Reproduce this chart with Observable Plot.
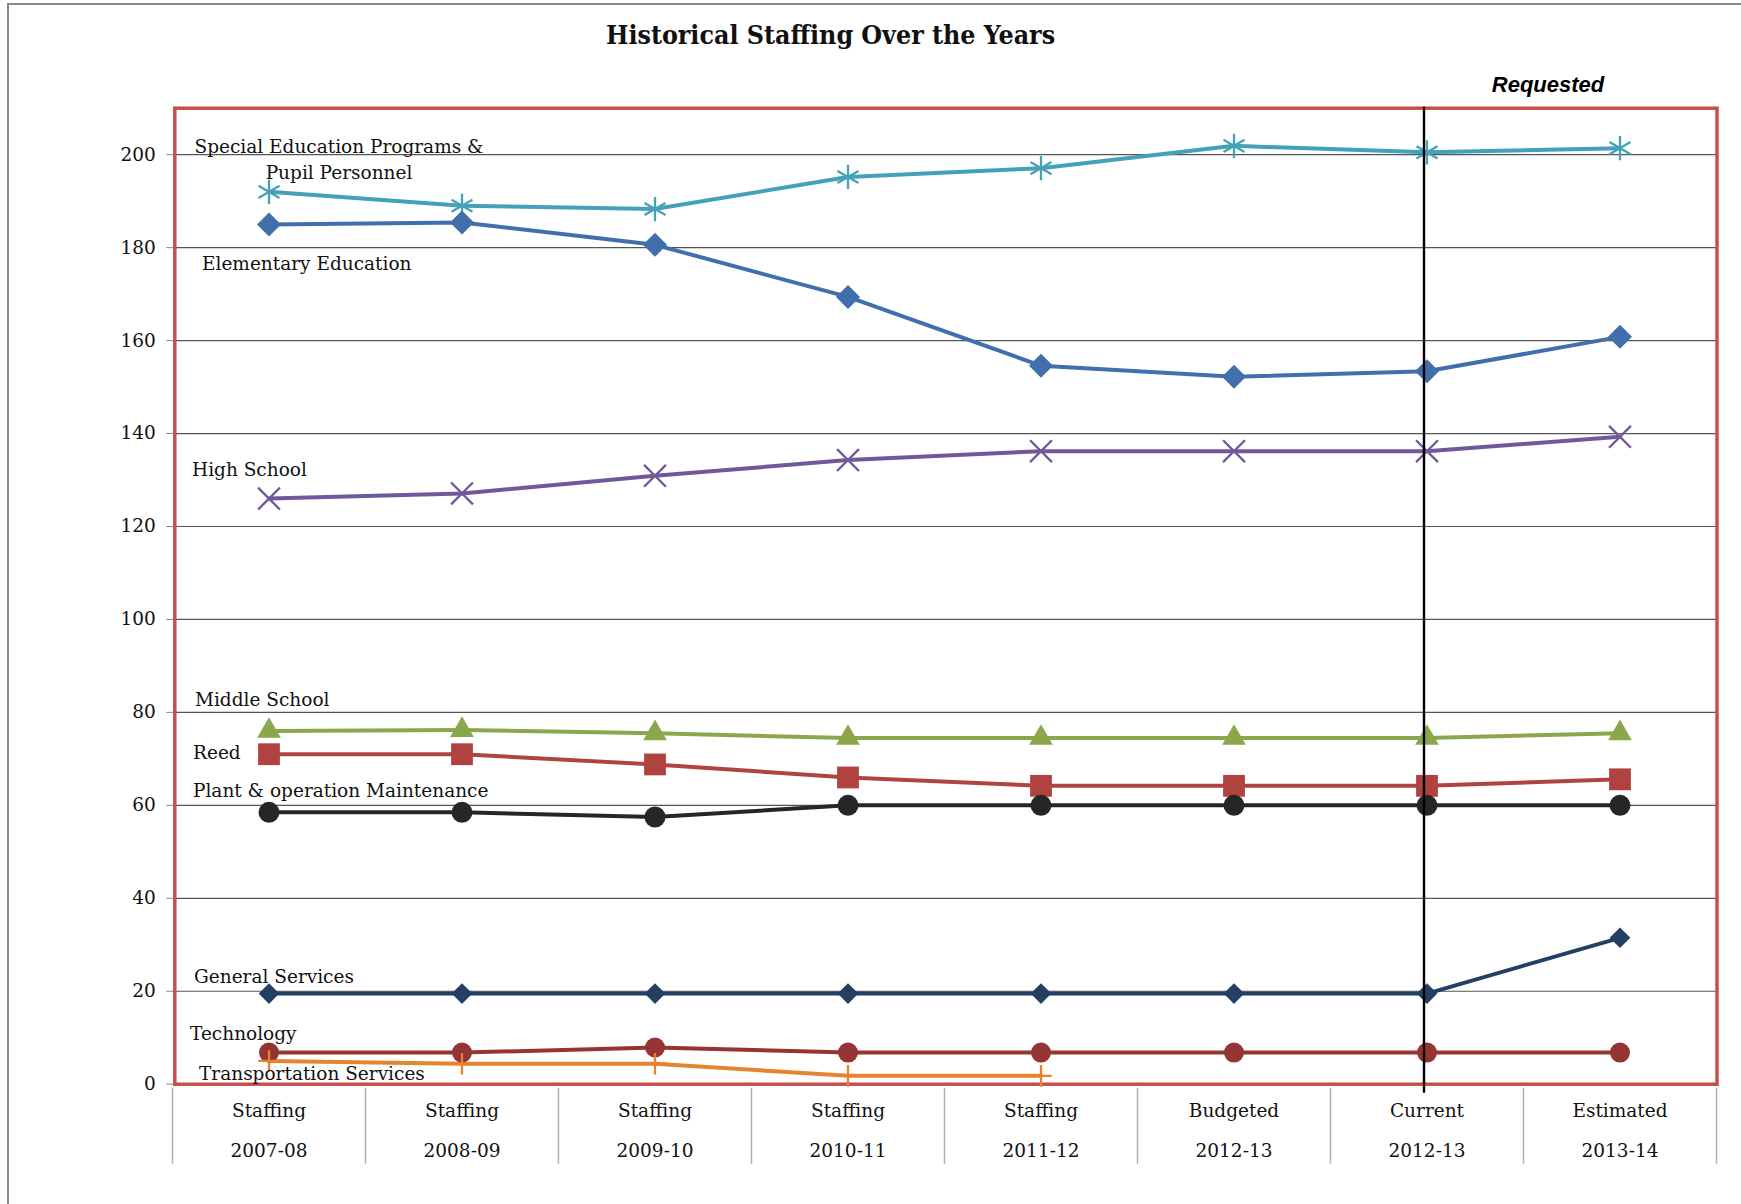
<!DOCTYPE html>
<html>
<head>
<meta charset="utf-8">
<script src="https://cdn.jsdelivr.net/npm/d3@7"></script>
<script src="https://cdn.jsdelivr.net/npm/@observablehq/plot@0.6"></script>
<style>
  html, body { margin: 0; padding: 0; background: white; }
  #wrap { position: relative; width: 1741px; height: 1204px; overflow: hidden; background: white; }
  #frameTop { position: absolute; left: 7px; top: 3px; width: 1734px; height: 0; border-top: 2px solid #8a8a8a; }
  #frameLeft { position: absolute; left: 7px; top: 3px; width: 0; height: 1201px; border-left: 2px solid #8a8a8a; }
  #title { height: 60px; line-height: 69px; text-align: center; font-family: "DejaVu Serif Condensed", "Liberation Serif", serif; font-weight: bold; font-size: 26.5px; color: #111; box-sizing: border-box; }
  #title span { position: relative; left: -40px; }
  #chart svg { display: block; }
</style>
</head>
<body>
<div id="wrap">
  <div id="frameTop"></div>
  <div id="frameLeft"></div>
  <div id="title"><span>Historical Staffing Over the Years</span></div>
  <div id="chart"></div>
</div>
<script>
// ---- data ----
const categories = [
  "Staffing 2007-08", "Staffing 2008-09", "Staffing 2009-10", "Staffing 2010-11",
  "Staffing 2011-12", "Budgeted 2012-13", "Current 2012-13", "Estimated 2013-14"
];
const seriesNames = [
  "Special Education Programs & Pupil Personnel",
  "Elementary Education",
  "High School",
  "Middle School",
  "Reed",
  "Plant & operation Maintenance",
  "General Services",
  "Technology",
  "Transportation Services"
];
const seriesLabels = [
  "Special Education Programs &\nPupil Personnel",
  "Elementary Education",
  "High School",
  "Middle School",
  "Reed",
  "Plant & operation Maintenance",
  "General Services",
  "Technology",
  "Transportation Services"
];
const specialEducation = [192, 189, 188.3, 195.2, 197.1, 201.9, 200.5, 201.4];
const elementaryEducation = [185, 185.4, 180.6, 169.4, 154.6, 152.2, 153.4, 160.8];
const highSchool = [126, 127.1, 130.9, 134.3, 136.2, 136.2, 136.2, 139.3];
const middleSchool = [76, 76.2, 75.5, 74.5, 74.5, 74.5, 74.5, 75.5];
const reed = [71, 71, 68.8, 66, 64.2, 64.2, 64.2, 65.6];
const plantMaintenance = [58.5, 58.5, 57.5, 60, 60, 60, 60, 60];
const generalServices = [19.5, 19.5, 19.5, 19.5, 19.5, 19.5, 19.5, 31.5];
const technology = [6.8, 6.8, 7.9, 6.8, 6.8, 6.8, 6.8, 6.8];
const transportation = [5, 4.4, 4.4, 1.8, 1.8, null, null, null];
const yTicks = [0, 20, 40, 60, 80, 100, 120, 140, 160, 180, 200];
const yMax = 210;
const requestedLabel = "Requested";
const requestedCategory = "Current 2012-13";

const seriesValues = [specialEducation, elementaryEducation, highSchool, middleSchool, reed,
  plantMaintenance, generalServices, technology, transportation];

// ---- styles ----
const styles = [
  {color: "#45A1B9", symbol: "asterisk", r: 11.5, filled: false, ldx: 70, ldy: -34, anchor: "middle"},
  {color: "#416FAB", symbol: "diamond2", r: 10.8, filled: true, ldx: -67, ldy: 37, anchor: "start"},
  {color: "#71589A", symbol: "times", r: 10, filled: false, ldx: -77, ldy: -31, anchor: "start"},
  {color: "#8AA84B", symbol: "triangle", r: 8.8, filled: true, ldx: -74, ldy: -33.5, anchor: "start"},
  {color: "#B04340", symbol: "square", r: 12.3, filled: true, ldx: -76, ldy: -4, anchor: "start"},
  {color: "#262626", symbol: "circle", r: 10.5, filled: true, ldx: -76, ldy: -24, anchor: "start"},
  {color: "#233F63", symbol: "diamond2", r: 9.3, filled: true, ldx: -75, ldy: -19, anchor: "start"},
  {color: "#953533", symbol: "circle", r: 10, filled: true, ldx: -79, ldy: -21, anchor: "start"},
  {color: "#E5832F", symbol: "plus", r: 7, filled: false, ldx: -70, ldy: 10.5, anchor: "start"}
];

const rows = seriesNames.flatMap((s, i) =>
  seriesValues[i].map((v, j) => ({series: s, idx: i, category: categories[j], value: v}))
).filter(d => d.value != null);

const W = 1741, H = 1140;
const mLeft = 174.3, mRight = 24.5, mTop = 47.7, mBottom = 116.3;
const xRange = [172.2, 1716.5];
const bandW = (xRange[1] - xRange[0]) / categories.length;
const font = "DejaVu Serif";

const marks = [];
marks.push(Plot.gridY(yTicks.filter(t => t > 0), {stroke: "#555", strokeOpacity: 1, strokeWidth: 1.2}));
marks.push(Plot.axisY({ticks: yTicks, tickSize: 8, tickPadding: 11, stroke: "#8a8a8a", fill: "#111",
  fontSize: 18.5, fontFamily: font, tickFormat: d => String(d), label: null}));
// x separators between categories (below the plot)
marks.push(Plot.ruleX(categories, {x: d => d, dx: -bandW / 2, y1: 0, y2: 0, insetTop: 4, insetBottom: -80, stroke: "#b0b0b0", strokeWidth: 1.5}));
marks.push(Plot.ruleX([categories[categories.length - 1]], {x: d => d, dx: bandW / 2, y1: 0, y2: 0, insetTop: 4, insetBottom: -80, stroke: "#b0b0b0", strokeWidth: 1.5}));
// x labels
marks.push(Plot.text(categories, {x: d => d, frameAnchor: "bottom", dy: 5, lineAnchor: "top", lineHeight: 2.15,
  text: d => d.replace(" ", "\n"), fontSize: 18.5, fontFamily: font, fill: "#111"}));
// red frame
marks.push(Plot.frame({stroke: "#C4504D", strokeWidth: 3.5}));

seriesNames.forEach((s, i) => {
  const st = styles[i];
  const data = rows.filter(d => d.idx === i);
  marks.push(Plot.line(data, {x: "category", y: "value", stroke: st.color, strokeWidth: 4}));
});
seriesNames.forEach((s, i) => {
  const st = styles[i];
  const data = rows.filter(d => d.idx === i);
  marks.push(Plot.dot(data, {x: "category", y: "value", symbol: () => st.symbol, r: st.r,
    fill: st.filled ? st.color : "none", stroke: st.color, strokeWidth: st.filled ? 0 : 2.3}));
});
// vertical "requested" divider
marks.push(Plot.ruleX([requestedCategory], {x: d => d, dx: -3, y1: yMax, y2: 0, insetTop: -1, insetBottom: -9, stroke: "#000", strokeWidth: 2.4}));
// series labels
seriesNames.forEach((s, i) => {
  const st = styles[i];
  const first = rows.find(d => d.idx === i);
  marks.push(Plot.text([first], {x: "category", y: "value", text: () => seriesLabels[i], dx: st.ldx, dy: st.ldy,
    textAnchor: st.anchor, lineHeight: 1.4, fontSize: 18.5, fontFamily: font, fill: "#111"}));
});
// Requested label
marks.push(Plot.text([requestedLabel], {x: () => categories[categories.length - 1], y: () => yMax, text: d => d,
  dx: -72, dy: -23, fontSize: 22, fontFamily: "Liberation Sans", fontStyle: "italic", fontWeight: "bold", fill: "#000"}));

const chart = Plot.plot({
  width: W, height: H,
  marginTop: mTop, marginLeft: mLeft, marginRight: mRight, marginBottom: mBottom,
  x: {type: "band", domain: categories, padding: 0, range: xRange, axis: null},
  y: {domain: [0, yMax], axis: null},
  style: {fontFamily: font, background: "transparent", overflow: "visible"},
  marks
});
document.getElementById("chart").appendChild(chart);
</script>
</body>
</html>
